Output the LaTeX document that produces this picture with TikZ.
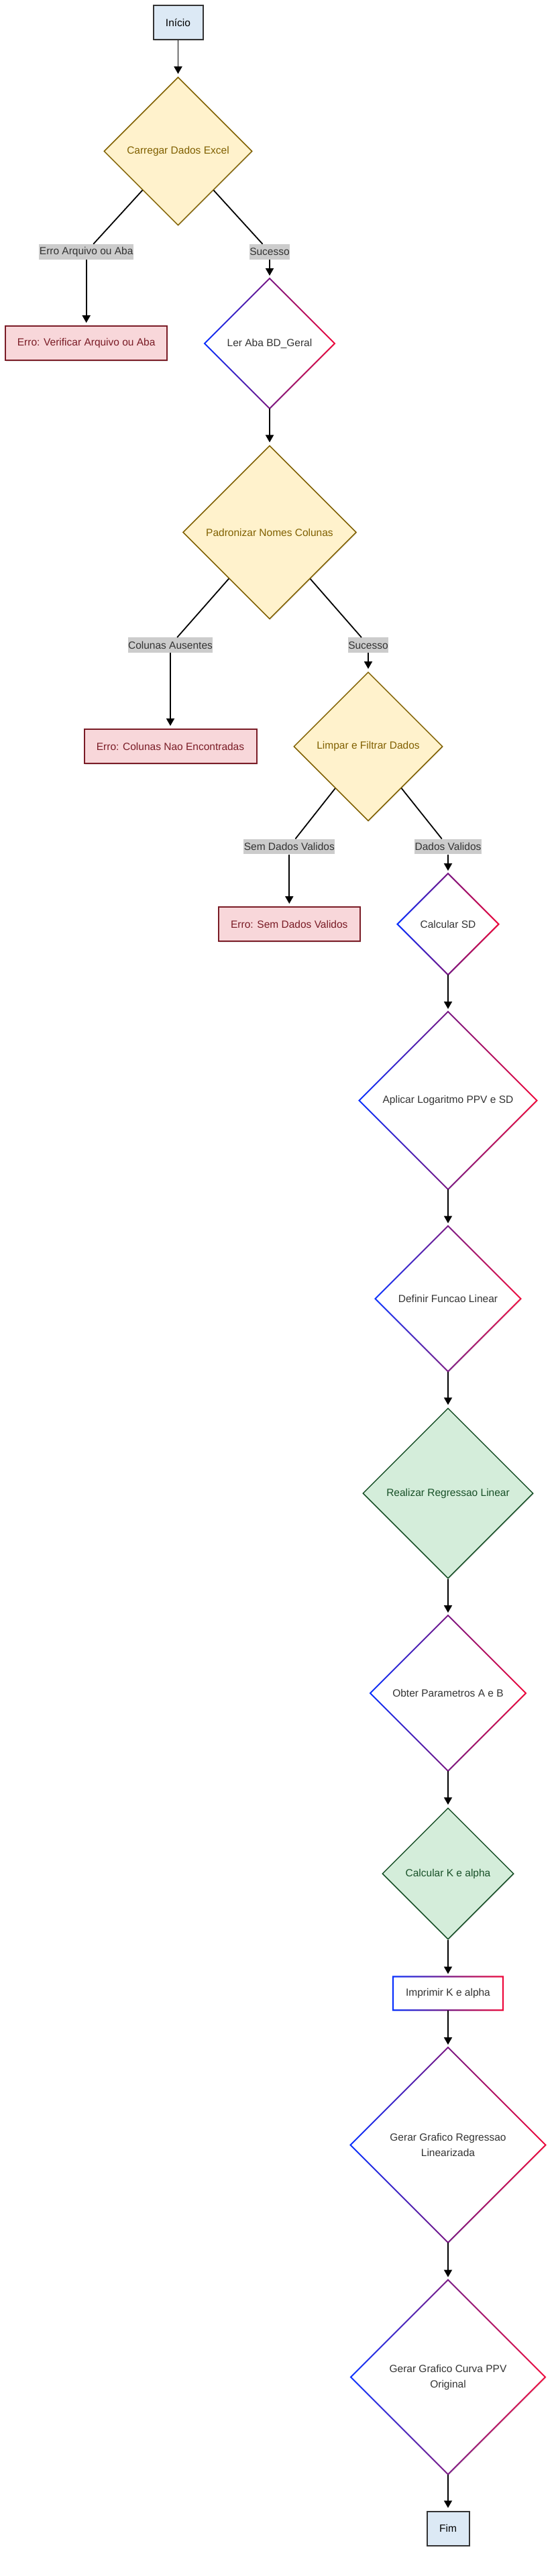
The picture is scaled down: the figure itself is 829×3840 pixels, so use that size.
\documentclass[tikz,border=0pt]{standalone}
\usepackage{fontspec}
\setmainfont{Liberation Sans}
\usetikzlibrary{shapes.geometric,arrows.meta,shadows}

\definecolor{startFill}{RGB}{220,233,245}
\definecolor{startLine}{RGB}{51,51,51}
\definecolor{warnFill}{RGB}{255,242,204}
\definecolor{warnLine}{RGB}{128,96,0}
\definecolor{errFill}{RGB}{248,215,218}
\definecolor{errLine}{RGB}{122,28,38}
\definecolor{okFill}{RGB}{212,237,218}
\definecolor{okLine}{RGB}{24,80,40}
\definecolor{gradBlue}{RGB}{10,50,255}
\definecolor{gradRed}{RGB}{240,10,60}
\definecolor{txtGray}{RGB}{51,51,51}
\definecolor{lblFill}{RGB}{204,204,204}

% gradient borders (blue left, red right)
\newcommand{\gradDiamond}[1]{%
  \shade[left color=gradBlue, right color=gradRed, middle color=gradBlue!45!gradRed!90!black, even odd rule]
    ([yshift=1.4pt]#1.north) -- ([xshift=1.4pt]#1.east) -- ([yshift=-1.4pt]#1.south) -- ([xshift=-1.4pt]#1.west) -- cycle
    ([yshift=-1.4pt]#1.north) -- ([xshift=-1.4pt]#1.east) -- ([yshift=1.4pt]#1.south) -- ([xshift=1.4pt]#1.west) -- cycle;}
\newcommand{\gradBox}[1]{%
  \shade[left color=gradBlue, right color=gradRed, middle color=gradBlue!45!gradRed!90!black, even odd rule]
    ([xshift=-1.2pt,yshift=1.2pt]#1.north west) rectangle ([xshift=1.2pt,yshift=-1.2pt]#1.south east)
    ([xshift=1.2pt,yshift=-1.2pt]#1.north west) rectangle ([xshift=-1.2pt,yshift=1.2pt]#1.south east);}

\begin{document}
\begin{tikzpicture}[x=1pt, y=-1pt,
	every node/.style={font=\fontsize{15.5}{23}\selectfont},
	shad/.style={drop shadow={opacity=0.18, shadow xshift=1pt, shadow yshift=-1.5pt}},
	terminal/.style={shad, rectangle, draw=startLine, fill=startFill, line width=2pt, text=black, minimum height=51pt},
	warn/.style={shad, diamond, aspect=1, inner sep=0pt, draw=warnLine, fill=warnFill, line width=1.5pt, text=warnLine},
	ok/.style={shad, diamond, aspect=1, inner sep=0pt, draw=okLine, fill=okFill, line width=1.5pt, text=okLine},
	grad/.style={shad, diamond, aspect=1, inner sep=0pt, outer sep=0pt, fill=white, text=txtGray, align=center},
	gradbox/.style={shad, rectangle, outer sep=0pt, fill=white, text=txtGray, minimum height=50pt},
	err/.style={shad, rectangle, draw=errLine, fill=errFill, line width=2pt, text=errLine, minimum height=51pt},
	lbl/.style={rectangle, fill=lblFill, text=txtGray, inner xsep=0.5pt, inner ysep=0pt, minimum height=22.7pt},
	flow/.style={line width=1.8pt, black},
	arr/.style={flow, -{Triangle[length=11pt,width=12pt]}, shorten >=4pt}]
		\useasboundingbox (0,0) rectangle (829,3840);

		%start and first checks
		\node[terminal, minimum width=74pt] (inicio) at (265.5,33.8) {Início};
		\node[warn, minimum size=221pt] (carregar) at (265.5,225.4) {Carregar Dados Excel};
		\node[lbl] (lblErroArq) at (128.7,375.3) {Erro Arquivo ou Aba};
		\node[lbl] (lblSuc1) at (402,375.3) {Sucesso};
		\node[err, minimum width=241pt] (errArq) at (128.7,511.7) {Erro: Verificar Arquivo ou Aba};
		\node[grad, minimum size=194pt] (lerAba) at (402,512) {Ler Aba BD\_Geral};

		\node[warn, minimum size=258.6pt] (padronizar) at (402,793.5) {Padronizar Nomes Colunas};
		\node[lbl] (lblColunas) at (254,961.7) {Colunas Ausentes};
		\node[lbl] (lblSuc2) at (549,961.7) {Sucesso};
		\node[err, minimum width=257pt] (errCol) at (254,1112.5) {Erro: Colunas Nao Encontradas};

		\node[warn, minimum size=222pt] (limpar) at (549,1112.8) {Limpar e Filtrar Dados};
		\node[lbl] (lblSemDados) at (431.3,1262) {Sem Dados Validos};
		\node[lbl] (lblDadosVal) at (668,1262) {Dados Validos};
		\node[err, minimum width=211.6pt] (errSem) at (431.3,1377.6) {Erro: Sem Dados Validos};

		%main column
		\node[grad, minimum size=151pt] (calcSD) at (668,1377.6) {Calcular SD};
		\node[grad, minimum size=265pt] (aplicar) at (668,1640.5) {Aplicar Logaritmo PPV e SD};
		\node[grad, minimum size=217pt] (definir) at (668,1936) {Definir Funcao Linear};
		\node[ok, minimum size=254pt] (realizar) at (668,2226) {Realizar Regressao Linear};
		\node[grad, minimum size=232pt] (obter) at (668,2524) {Obter Parametros A e B};
		\node[ok, minimum size=196pt] (calcK) at (668,2793) {Calcular K e alpha};
		\node[gradbox, minimum width=164pt] (imprimir) at (668,2971.5) {Imprimir K e alpha};
		\node[grad, minimum size=291pt] (gerarReg) at (668,3197.5) {Gerar Grafico Regressao\\Linearizada};
		\node[grad, minimum size=290pt] (gerarCurva) at (668,3543.5) {Gerar Grafico Curva PPV\\Original};
		\node[terminal, minimum width=63pt] (fim) at (668,3769) {Fim};

		\foreach \n in {lerAba, calcSD, aplicar, definir, obter, gerarReg, gerarCurva}{
			\gradDiamond{\n}
		}
		\gradBox{imprimir}

		%connectors
		\draw[arr] (inicio) -- (carregar);
		\draw[flow] (carregar) -- (lblErroArq);
		\draw[arr] (lblErroArq) -- (errArq);
		\draw[flow] (carregar) -- (lblSuc1);
		\draw[arr] (lblSuc1) -- (lerAba);
		\draw[arr] (lerAba) -- (padronizar);
		\draw[flow] (padronizar) -- (lblColunas);
		\draw[arr] (lblColunas) -- (errCol);
		\draw[flow] (padronizar) -- (lblSuc2);
		\draw[arr] (lblSuc2) -- (limpar);
		\draw[flow] (limpar) -- (lblSemDados);
		\draw[arr] (lblSemDados) -- (errSem);
		\draw[flow] (limpar) -- (lblDadosVal);
		\draw[arr] (lblDadosVal) -- (calcSD);
		\foreach \a/\b in {calcSD/aplicar, aplicar/definir, definir/realizar, realizar/obter, obter/calcK, calcK/imprimir, imprimir/gerarReg, gerarReg/gerarCurva, gerarCurva/fim}{
			\draw[arr] (\a) -- (\b);
		}
\end{tikzpicture}
\end{document}
